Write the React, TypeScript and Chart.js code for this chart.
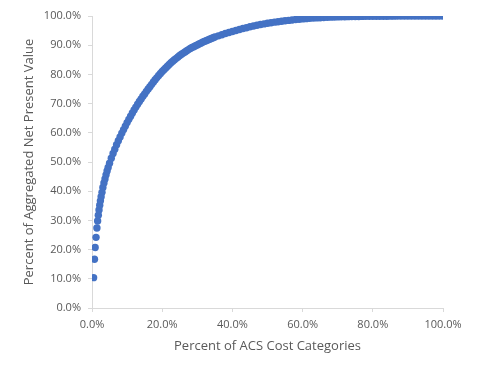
import React, { useEffect, useRef } from "react";
import { Chart, registerables } from "chart.js";

Chart.register(...registerables);

// Percent of ACS cost categories (x) and cumulative percent of aggregated NPV (y)
const xPercent: number[] = [
  0.45, 0.7, 0.9, 1.15, 1.4, 1.6, 1.8, 2.0, 2.2, 2.4, 2.6, 2.85, 3.1, 3.4, 3.7, 4.0, 4.3, 4.6,
  5.0, 5.5, 6.0, 6.5, 7.0, 7.5, 8.0, 8.5, 9.0, 9.5, 10.0, 10.5, 11.0, 11.5, 12.0, 12.5, 13.0, 13.5,
  14.0, 14.5, 15.0, 15.5, 16.0, 16.5, 17.0, 17.5, 18.0, 18.5, 19.0, 19.5, 20.0, 20.5, 21.0, 21.5,
  22.0, 22.5, 23.0, 23.5, 24.0, 24.5, 25.0, 25.5, 26.0, 26.5, 27.0, 27.5, 28.0, 28.5, 29.0, 29.5,
  30.0, 30.5, 31.0, 31.5, 32.0, 32.5, 33.0, 33.5, 34.0, 34.5, 35.0,
  36, 37, 38, 39, 40, 41, 42, 43, 44, 45, 46, 47, 48, 49, 50,
  51, 52, 53, 54, 55, 56, 57, 58, 59, 60, 61, 62, 63, 64, 65, 66, 67, 68, 69, 70,
  71, 72, 73, 74, 75, 76, 77, 78, 79, 80, 81, 82, 83, 84, 85, 86, 87, 88, 89, 90,
  91, 92, 93, 94, 95, 96, 97, 98, 99, 100,
];

const yPercent: number[] = [
  10.4, 16.7, 20.7, 24.2, 27.4, 29.8, 31.8, 33.6, 35.2, 36.7, 38.1, 39.6, 41.3, 42.8, 44.2, 45.6, 46.9, 48.1,
  49.6, 51.3, 52.9, 54.4, 55.9, 57.3, 58.6, 59.9, 61.1, 62.3, 63.5, 64.6, 65.7, 66.8, 67.8, 68.8, 69.8, 70.7,
  71.6, 72.5, 73.3, 74.2, 75.0, 75.8, 76.6, 77.4, 78.2, 78.9, 79.6, 80.3, 81.0, 81.6, 82.2, 82.8,
  83.4, 84.0, 84.5, 85.0, 85.5, 86.0, 86.5, 86.9, 87.3, 87.7, 88.1, 88.5, 88.9, 89.2, 89.5, 89.8,
  90.1, 90.4, 90.7, 91.0, 91.3, 91.55, 91.8, 92.05, 92.3, 92.55, 92.8,
  93.2, 93.6, 94.0, 94.35, 94.7, 95.05, 95.4, 95.7, 96.0, 96.3, 96.6, 96.85, 97.1, 97.3, 97.5,
  97.7, 97.9, 98.05, 98.2, 98.35, 98.5, 98.65, 98.8, 98.9, 99.0, 99.1, 99.2, 99.28, 99.35, 99.42, 99.5, 99.55, 99.6, 99.65, 99.7,
  99.72, 99.75, 99.78, 99.8, 99.82, 99.85, 99.87, 99.88, 99.89, 99.9, 99.91, 99.92, 99.93, 99.94, 99.95, 99.955, 99.96, 99.965, 99.97, 99.975,
  99.98, 99.983, 99.986, 99.989, 99.992, 99.994, 99.996, 99.998, 99.999, 100,
];

const xTitle = "Percent of ACS Cost Categories";
const yTitle = "Percent of Aggregated Net Present Value";

const FONT = "'Open Sans', sans-serif";
const TEXT = "#595959";
const AXIS = "#d9d9d9";

export default function App() {
  const ref = useRef<HTMLCanvasElement | null>(null);

  useEffect(() => {
    if (!ref.current) return;
    const points = xPercent.map((x, i) => ({ x, y: yPercent[i] }));
    const chart = new Chart(ref.current, {
      type: "scatter",
      data: {
        datasets: [
          {
            data: points,
            backgroundColor: "#4472C4",
            borderColor: "#4472C4",
            borderWidth: 0,
            pointRadius: 3.7,
            pointHoverRadius: 3.7,
          },
        ],
      },
      options: {
        animation: false,
        responsive: false,
        maintainAspectRatio: false,
        layout: { padding: { left: 17, right: 37, top: 16, bottom: 20 } },
        plugins: { legend: { display: false }, tooltip: { enabled: false } },
        scales: {
          x: {
            type: "linear",
            min: 0,
            max: 100,
            afterFit: (s: any) => {
              s.height = 46;
            },
            ticks: {
              stepSize: 20,
              color: TEXT,
              font: { family: FONT, size: 11 },
              padding: 6,
              maxRotation: 0,
              callback: (v: any) => Number(v).toFixed(1) + "%",
            },
            grid: {
              display: true,
              drawOnChartArea: false,
              drawTicks: true,
              tickLength: 4,
              color: AXIS,
            },
            border: { display: true, color: AXIS, width: 1 },
            title: {
              display: true,
              text: xTitle,
              color: TEXT,
              font: { family: FONT, size: 13 },
              padding: { top: 0, bottom: 0 },
            },
          },
          y: {
            type: "linear",
            min: 0,
            max: 100,
            afterFit: (s: any) => {
              s.width = 75;
            },
            ticks: {
              stepSize: 10,
              color: TEXT,
              font: { family: FONT, size: 11 },
              padding: 7,
              callback: (v: any) => Number(v).toFixed(1) + "%",
            },
            grid: {
              display: true,
              drawOnChartArea: false,
              drawTicks: true,
              tickLength: 4,
              color: AXIS,
            },
            border: { display: true, color: AXIS, width: 1 },
            title: {
              display: true,
              text: yTitle,
              color: TEXT,
              font: { family: FONT, size: 13 },
              padding: { top: 4, bottom: 4 },
            },
          },
        },
      },
    });
    return () => chart.destroy();
  }, []);

  return (
    <div style={{ position: "fixed", left: 0, top: 0, width: 480, height: 374, background: "#fff" }}>
      <canvas ref={ref} width={480} height={374} style={{ width: 480, height: 374, display: "block" }} />
    </div>
  );
}
